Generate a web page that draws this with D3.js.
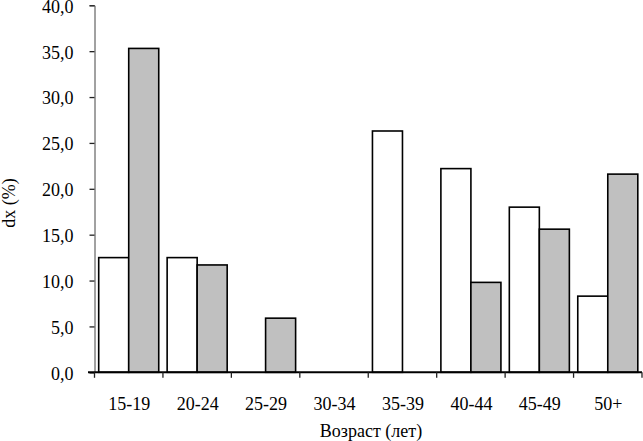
<!DOCTYPE html>
<html>
<head>
<meta charset="utf-8">
<script src="https://cdn.jsdelivr.net/npm/d3@7"></script>
<style>
  html, body { margin: 0; padding: 0; background: #fff; }
  svg { display: block; }
  text { font-family: "Liberation Serif", "Times New Roman", serif; fill: #000; }
</style>
</head>
<body>
<svg id="chart" width="643" height="441"></svg>
<script>
const categories = ["15-19", "20-24", "25-29", "30-34", "35-39", "40-44", "45-49", "50+"];
const seriesWhite = [12.5, 12.5, 0, 0, 26.3, 22.2, 18.0, 8.3];
const seriesGray  = [35.3, 11.7, 5.9, 0, 0, 9.8, 15.6, 21.6];
const yTicks = [0, 5, 10, 15, 20, 25, 30, 35, 40];
const xTitle = "Возраст (лет)";
const yTitle = "dx (%)";

const svg = d3.select("#chart");
const plotLeft = 94.5, plotRight = 642, plotTop = 5.3, plotBottom = 372.3;

const x = d3.scaleBand().domain(categories).range([plotLeft, plotRight]).paddingInner(0).paddingOuter(0);
const xs = d3.scaleBand().domain(["w", "g"]).range([4.2, x.bandwidth() - 4.2]).padding(0);
const y = d3.scaleLinear().domain([0, 40]).range([plotBottom, plotTop]);

const fmt = v => d3.format(".1f")(v).replace(".", ",");

// Y axis
const yAxis = svg.append("g")
  .attr("transform", `translate(${plotLeft},0)`)
  .call(d3.axisLeft(y).tickValues(yTicks).tickFormat(fmt).tickSize(5).tickPadding(16));
yAxis.select(".domain").attr("stroke", "#444").attr("stroke-width", 1);
yAxis.selectAll(".tick line").attr("stroke", "#222").attr("stroke-width", 1.3);
yAxis.selectAll(".tick text")
  .attr("font-size", 18)
  .attr("font-family", "Liberation Serif, serif")
  .attr("dy", "0.38em");

// Bars
const data = categories.map((c, i) => ({c, w: seriesWhite[i], g: seriesGray[i]}));
const groups = svg.append("g").selectAll("g").data(data).join("g")
  .attr("transform", d => `translate(${x(d.c)},0)`);

groups.each(function(d) {
  const g = d3.select(this);
  [["w", d.w, "#ffffff"], ["g", d.g, "#c0c0c0"]].forEach(([k, v, fill]) => {
    if (v <= 0) return;
    g.append("rect")
      .attr("x", xs(k))
      .attr("y", y(v))
      .attr("width", xs.bandwidth())
      .attr("height", y(0) - y(v))
      .attr("fill", fill)
      .attr("stroke", "#000")
      .attr("stroke-width", 1.6);
  });
});

// X axis line
svg.append("line")
  .attr("x1", 88).attr("x2", plotRight)
  .attr("y1", plotBottom).attr("y2", plotBottom)
  .attr("stroke", "#000").attr("stroke-width", 2);

// X boundary ticks
const boundaries = categories.map(c => x(c)).concat([plotRight]);
svg.append("g").selectAll("line").data(boundaries).join("line")
  .attr("x1", d => d).attr("x2", d => d)
  .attr("y1", plotBottom).attr("y2", plotBottom + 5.5)
  .attr("stroke", "#222").attr("stroke-width", 1.3);

// X labels
svg.append("g").selectAll("text").data(categories).join("text")
  .attr("x", d => x(d) + x.bandwidth() / 2 + 0.5)
  .attr("y", 410)
  .attr("text-anchor", "middle")
  .attr("font-size", 18)
  .text(d => d);

// Axis titles
svg.append("text")
  .attr("x", 371).attr("y", 436.5)
  .attr("text-anchor", "middle")
  .attr("font-size", 18)
  .text(xTitle);

svg.append("text")
  .attr("transform", "translate(15,203) rotate(-90)")
  .attr("text-anchor", "middle")
  .attr("font-size", 18)
  .text(yTitle);
</script>
</body>
</html>
